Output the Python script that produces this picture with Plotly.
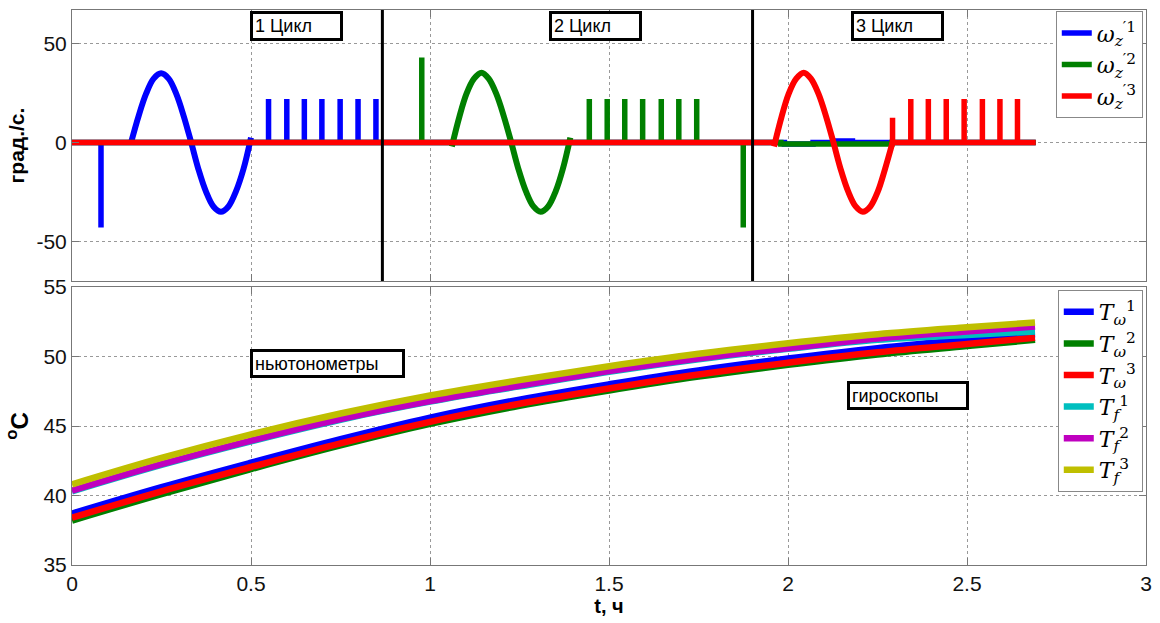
import plotly.graph_objects as go

# ---------------- angular rate channels (top panel) ----------------
# Sine manoeuvre of each cycle: time (h) and rate (deg/s)
w1_sine_t = [0.165, 0.186, 0.207, 0.228, 0.249, 0.270, 0.291, 0.312, 0.333,
             0.353, 0.374, 0.395, 0.416, 0.437, 0.458, 0.479, 0.500]
w1_sine_v = [0, 13.4, 24.7, 32.3, 35.0, 32.3, 24.7, 13.4, 0,
             -13.4, -24.7, -32.3, -35.0, -32.3, -24.7, -13.4, 2.5]

w2_sine_t = [1.061, 1.082, 1.102, 1.123, 1.144, 1.164, 1.185, 1.206, 1.227,
             1.247, 1.268, 1.289, 1.309, 1.330, 1.351, 1.371, 1.392]
w2_sine_v = [-2.0, 13.0, 24.7, 32.3, 35.3, 32.3, 24.7, 13.4, 0,
             -13.4, -24.7, -32.3, -35.0, -32.3, -24.7, -13.4, 2.5]

w3_sine_t = [1.961, 1.982, 2.002, 2.023, 2.044, 2.064, 2.085, 2.106, 2.127,
             2.147, 2.168, 2.189, 2.209, 2.230, 2.251, 2.271, 2.292]
w3_sine_v = [-2.0, 13.0, 24.7, 32.3, 35.3, 32.3, 24.7, 13.4, 0,
             -13.4, -24.7, -32.3, -35.0, -32.3, -24.7, -13.4, 0]

# Rectangular rate pulses after each sine manoeuvre
w1_pulse_t = [0.549, 0.600, 0.649, 0.698, 0.749, 0.799, 0.849]
w2_pulse_t = [1.445, 1.495, 1.544, 1.594, 1.646, 1.695, 1.745]
w3_pulse_t = [2.343, 2.392, 2.442, 2.492, 2.543, 2.592, 2.641]
pulse_height = 22.0

# Remaining breakpoints of each channel (spikes and small cross-coupling)
w1_base_t = [0.0, 0.081, 0.081, 0.081, 1.99, 1.99, 2.07, 2.07, 2.13, 2.13, 2.18, 2.18, 2.692]
w1_base_v = [0, 0, -43.0, 0, 0, -0.8, -0.8, 0, 0, 0.8, 0.8, 0, 0]
w2_base_t = [0.0, 0.38, 0.38, 0.49, 0.49, 0.977, 0.977, 0.977, 1.875, 1.875, 1.875,
             1.98, 1.98, 2.29, 2.29, 2.692]
w2_base_v = [0, 0, -0.6, -0.6, 0, 0, 43.0, 0, 0, -43.0, 0, 0, -0.8, -0.8, 0, 0]
w3_base_t = [0.0, 0.19, 0.19, 0.31, 0.31, 1.961, None, 2.292, 2.292, 2.292, 2.692]
w3_base_v = [0, 0, 0.6, 0.6, 0, 0, None, 0, 12.5, 0, 0]

cycle_lines_t = [0.867, 1.901]
cycle_labels = ["1 Цикл", "2 Цикл", "3 Цикл"]
cycle_label_t = [0.498, 1.331, 2.175]

# ---------------- temperatures (bottom panel) ----------------
temp_t = [0.0, 0.25, 0.5, 0.75, 1.0, 1.25, 1.5, 1.75, 2.0, 2.25, 2.5, 2.69]
T_w1 = [38.7, 40.6, 42.36, 44.05, 45.6, 46.9, 48.0, 49.0, 49.85, 50.6, 51.2, 51.6]
T_w2 = [38.2, 40.1, 41.9, 43.6, 45.15, 46.45, 47.55, 48.55, 49.4, 50.15, 50.75, 51.2]
T_w3 = [38.4, 40.3, 42.05, 43.75, 45.3, 46.6, 47.7, 48.7, 49.55, 50.3, 50.9, 51.35]
T_f1 = [40.3, 42.2, 43.9, 45.45, 46.75, 47.85, 48.9, 49.8, 50.55, 51.2, 51.55, 51.8]
T_f2 = [40.35, 42.25, 43.95, 45.5, 46.8, 47.9, 48.95, 49.85, 50.6, 51.3, 51.8, 52.15]
T_f3 = [40.8, 42.7, 44.4, 45.9, 47.2, 48.3, 49.3, 50.2, 50.95, 51.6, 52.1, 52.45]

x_ticks = [0, 0.5, 1, 1.5, 2, 2.5, 3]
x_tick_labels = ["0", "0.5", "1", "1.5", "2", "2.5", "3"]
rate_ticks = [-50, 0, 50]
rate_tick_labels = ["-50", "0", "50"]
temp_ticks = [35, 40, 45, 50, 55]

FONT = "Liberation Sans, Arial, sans-serif"
SERIF = "DejaVu Serif, serif"
BLUE, GREEN, RED = "#0000FF", "#008000", "#FF0000"
CYAN, MAGENTA, OLIVE = "#00BFBF", "#BF00BF", "#BFBF00"


def with_pulses(base_t, base_v, pulses, height):
    """Append rectangular pulses (up and back down) to a breakpoint list."""
    t, v = list(base_t), list(base_v)
    for p in pulses:
        t += [None, p, p, p]
        v += [None, 0, height, 0]
    return t, v


fig = go.Figure()

rate_series = [
    ("<i>ω</i><sub><i>z</i></sub><sup>′1</sup>", BLUE, w1_base_t, w1_base_v, w1_pulse_t, w1_sine_t, w1_sine_v),
    ("<i>ω</i><sub><i>z</i></sub><sup>′2</sup>", GREEN, w2_base_t, w2_base_v, w2_pulse_t, w2_sine_t, w2_sine_v),
    ("<i>ω</i><sub><i>z</i></sub><sup>′3</sup>", RED, w3_base_t, w3_base_v, w3_pulse_t, w3_sine_t, w3_sine_v),
]
for i, (name, col, bt, bv, pt, st, sv) in enumerate(rate_series):
    t, v = with_pulses(bt, bv, pt, pulse_height)
    fig.add_trace(go.Scatter(
        x=t, y=v, mode="lines", name=name, legendgroup=f"w{i}", legend="legend",
        line=dict(color=col, width=5.5), xaxis="x2", yaxis="y2", connectgaps=False))
    fig.add_trace(go.Scatter(
        x=st, y=sv, mode="lines", name=name, legendgroup=f"w{i}", showlegend=False,
        line=dict(color=col, width=6, shape="spline", smoothing=1.0),
        xaxis="x2", yaxis="y2"))

temp_series = [
    ("<i>T</i><sub><i>ω</i></sub><sup>1</sup>", BLUE, T_w1),
    ("<i>T</i><sub><i>ω</i></sub><sup>2</sup>", GREEN, T_w2),
    ("<i>T</i><sub><i>ω</i></sub><sup>3</sup>", RED, T_w3),
    ("<i>T</i><sub><i>f</i></sub><sup>1</sup>", CYAN, T_f1),
    ("<i>T</i><sub><i>f</i></sub><sup>2</sup>", MAGENTA, T_f2),
    ("<i>T</i><sub><i>f</i></sub><sup>3</sup>", OLIVE, T_f3),
]
for name, col, vals in temp_series:
    fig.add_trace(go.Scatter(
        x=temp_t, y=vals, mode="lines", name=name, legend="legend2",
        line=dict(color=col, width=6.5, shape="spline"), xaxis="x", yaxis="y"))

axis_common = dict(
    showline=True, linecolor="#777777", linewidth=1, mirror="ticks",
    ticks="inside", ticklen=7, tickcolor="#777777",
    showgrid=True, gridcolor="#999999", gridwidth=1, griddash="dot",
    zeroline=False, tickfont=dict(family=FONT, size=21, color="#111111"),
    automargin=False,
)

shapes = [
    dict(type="line", xref="x2", yref="y2 domain", x0=t0, x1=t0, y0=0, y1=1,
         line=dict(color="black", width=3))
    for t0 in cycle_lines_t
]

box_font = dict(family=FONT, size=18, color="black")
annotations = []
for lab, t0 in zip(cycle_labels, cycle_label_t):
    annotations.append(dict(
        text=lab, xref="x2", yref="paper", x=t0, y=0.998, xanchor="left", yanchor="top",
        showarrow=False, align="left", width=83, height=20, font=box_font,
        bordercolor="black", borderwidth=3, borderpad=2, bgcolor="white"))
annotations.append(dict(
    text="ньютонометры", xref="x", yref="paper", x=0.498, y=0.389, xanchor="left",
    yanchor="top", showarrow=False, align="left", width=145, height=19, font=box_font,
    bordercolor="black", borderwidth=3, borderpad=2, bgcolor="white"))
annotations.append(dict(
    text="гироскопы", xref="x", yref="paper", x=2.164, y=0.3315, xanchor="left",
    yanchor="top", showarrow=False, align="left", width=112, height=19, font=box_font,
    bordercolor="black", borderwidth=3, borderpad=2, bgcolor="white"))

legend_common = dict(
    bgcolor="white", bordercolor="#888888", borderwidth=1,
    font=dict(family=SERIF, size=22, color="black"),
    xanchor="right", yanchor="top", itemwidth=30, tracegroupgap=0,
)

fig.update_layout(
    width=1160, height=623, autosize=False,
    margin=dict(l=72, r=14, t=10, b=58, autoexpand=False),
    paper_bgcolor="white", plot_bgcolor="white",
    showlegend=True,
    xaxis=dict(domain=[0, 1], range=[0, 3], tickvals=x_ticks, ticktext=x_tick_labels,
               anchor="y",
               title=dict(text="<b>t, ч</b>", font=dict(family=FONT, size=20, color="black"),
                          standoff=0),
               **axis_common),
    yaxis=dict(domain=[0, 0.5009], range=[35, 55], tickvals=temp_ticks, anchor="x",
               title=dict(text="<b><sup>o</sup>C</b>", font=dict(family=FONT, size=24, color="black"),
                          standoff=8),
               **axis_common),
    xaxis2=dict(domain=[0, 1], range=[0, 3], tickvals=x_ticks,
                showticklabels=False, anchor="y2", matches="x", **axis_common),
    yaxis2=dict(domain=[0.5117, 1], range=[-70, 67], tickvals=rate_ticks,
                ticktext=rate_tick_labels, anchor="x2",
                title=dict(text="<b>град./с.</b>", font=dict(family=FONT, size=21, color="black"),
                           standoff=6),
                **axis_common),
    legend=dict(x=0.997, y=0.998, **legend_common),
    legend2=dict(x=0.997, y=0.4955, **legend_common),
    shapes=shapes,
    annotations=annotations,
)

fig.write_html("out.html")
